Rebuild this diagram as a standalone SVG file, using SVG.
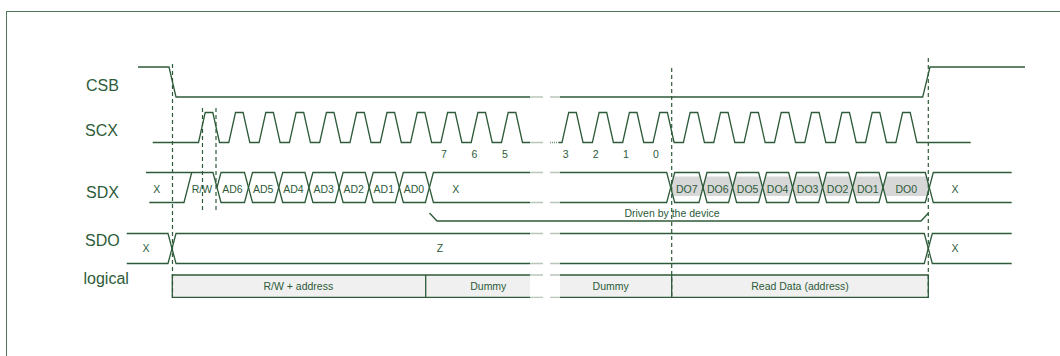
<svg xmlns="http://www.w3.org/2000/svg" width="1060" height="356" viewBox="0 0 1060 356">
<style>
.w{fill:none;stroke:#2d5b39;stroke-width:1.3;stroke-linejoin:miter}
.dot{fill:none;stroke:#6f8f76;stroke-width:1.3;stroke-dasharray:1 1}
.dash{fill:none;stroke:#2d5b39;stroke-width:1.2;stroke-dasharray:4 3}
.hx{fill:none;stroke:#2d5b39;stroke-width:1.3}
.dx{fill:#d7d7d7;stroke:none}
.lg{fill:#f0f0f0;stroke:none}
.big{font-family:"Liberation Sans",Arial,sans-serif;font-size:16px;fill:#2d5b39}
.sm{font-family:"Liberation Sans",Arial,sans-serif;font-size:10.5px;fill:#2d5b39;text-anchor:middle}
</style>
<rect x="6.5" y="11.5" width="1100" height="400" fill="none" stroke="#4f7359" stroke-width="1"/>

<g id="signal-labels">
<text class="big" x="86" y="91">CSB</text>
<text class="big" x="85" y="136">SCX</text>
<text class="big" x="86" y="197.5">SDX</text>
<text class="big" x="85" y="246">SDO</text>
<text class="big" x="83.5" y="284">logical</text>
</g>

<g id="csb">
<path class="w" d="M138,67 H169 L176,97 H530"/>
<path class="dot" d="M530.5,97 H543 M550.5,97 H560"/>
<path class="w" d="M560,97 H922.7 L930,67 H1025"/>
</g>

<g id="scx">
<path class="w" d="M152.7,142.5 L198.5,142.5 L205.2,112.5 L212.8,112.5 L219.5,142.5 L228.8,142.5 L235.5,112.5 L243.1,112.5 L249.8,142.5 L259.1,142.5 L265.8,112.5 L273.4,112.5 L280.1,142.5 L289.4,142.5 L296.1,112.5 L303.7,112.5 L310.4,142.5 L319.7,142.5 L326.4,112.5 L334,112.5 L340.7,142.5 L350,142.5 L356.7,112.5 L364.3,112.5 L371,142.5 L380.3,142.5 L387,112.5 L394.6,112.5 L401.3,142.5 L410.6,142.5 L417.3,112.5 L424.9,112.5 L431.6,142.5 L440.9,142.5 L447.6,112.5 L455.2,112.5 L461.9,142.5 L471.2,142.5 L477.9,112.5 L485.5,112.5 L492.2,142.5 L501.5,142.5 L508.2,112.5 L515.8,112.5 L522.5,142.5 L530,142.5"/>
<path class="dot" d="M530.5,142.5 H543 M550,142.5 H559"/>
<path class="w" d="M559,142.5 L562,142.5 L568.7,112.5 L576.3,112.5 L583,142.5 L592.4,142.5 L599.1,112.5 L606.7,112.5 L613.4,142.5 L622.7,142.5 L629.4,112.5 L637,112.5 L643.7,142.5 L653.1,142.5 L659.8,112.5 L667.4,112.5 L674.1,142.5 L683.4,142.5 L690.1,112.5 L697.7,112.5 L704.4,142.5 L713.8,142.5 L720.5,112.5 L728.1,112.5 L734.8,142.5 L744.1,142.5 L750.8,112.5 L758.4,112.5 L765.1,142.5 L774.5,142.5 L781.2,112.5 L788.8,112.5 L795.5,142.5 L804.8,142.5 L811.5,112.5 L819.1,112.5 L825.8,142.5 L835.2,142.5 L841.9,112.5 L849.5,112.5 L856.2,142.5 L865.5,142.5 L872.2,112.5 L879.8,112.5 L886.5,142.5 L895.9,142.5 L902.6,112.5 L910.2,112.5 L916.9,142.5 L970.7,142.5"/>
<text class="sm" x="444" y="157.5">7</text>
<text class="sm" x="474.3" y="157.5">6</text>
<text class="sm" x="505" y="157.5">5</text>
<text class="sm" x="565.7" y="157.5">3</text>
<text class="sm" x="595.7" y="157.5">2</text>
<text class="sm" x="626" y="157.5">1</text>
<text class="sm" x="656" y="157.5">0</text>
</g>

<g id="sdx">
<path class="w" d="M146,172.5 H213 L217,187.5"/>
<path class="w" d="M149.3,202.5 H184 L191.7,172.5"/>
<polygon class="hx" points="217,187.5 221,172.5 244.5,172.5 248.5,187.5 244.5,202.5 221,202.5"/>
<polygon class="hx" points="248.5,187.5 252.5,172.5 274.7,172.5 278.7,187.5 274.7,202.5 252.5,202.5"/>
<polygon class="hx" points="278.7,187.5 282.7,172.5 304.9,172.5 308.9,187.5 304.9,202.5 282.7,202.5"/>
<polygon class="hx" points="308.9,187.5 312.9,172.5 335.1,172.5 339.1,187.5 335.1,202.5 312.9,202.5"/>
<polygon class="hx" points="339.1,187.5 343.1,172.5 365.2,172.5 369.2,187.5 365.2,202.5 343.1,202.5"/>
<polygon class="hx" points="369.2,187.5 373.2,172.5 395.3,172.5 399.3,187.5 395.3,202.5 373.2,202.5"/>
<polygon class="hx" points="399.3,187.5 403.3,172.5 425.4,172.5 429.4,187.5 425.4,202.5 403.3,202.5"/>
<path class="w" d="M530,172.5 H433.4 L429.4,187.5 L433.4,202.5 H530"/>
<path class="dot" d="M530.5,172.5 H543 M550.5,172.5 H560 M530.5,202.5 H543 M550.5,202.5 H560"/>
<path class="w" d="M560,172.5 H666.7 L670.7,187.5 L666.7,202.5 H560"/>
<g id="sdx-read">
<polygon class="dx" points="673.6,176.5 700.1,176.5 703,187.5 700.7,196 673,196 670.7,187.5"/>
<polygon class="dx" points="705.9,176.5 729.7,176.5 732.6,187.5 730.3,196 705.3,196 703,187.5"/>
<polygon class="dx" points="735.5,176.5 759.7,176.5 762.6,187.5 760.3,196 734.9,196 732.6,187.5"/>
<polygon class="dx" points="765.5,176.5 789.7,176.5 792.6,187.5 790.3,196 764.9,196 762.6,187.5"/>
<polygon class="dx" points="795.5,176.5 819.7,176.5 822.6,187.5 820.3,196 794.9,196 792.6,187.5"/>
<polygon class="dx" points="825.5,176.5 849.7,176.5 852.6,187.5 850.3,196 824.9,196 822.6,187.5"/>
<polygon class="dx" points="855.5,176.5 880.1,176.5 883,187.5 880.7,196 854.9,196 852.6,187.5"/>
<polygon class="dx" points="885.9,176.5 926.4,176.5 929.3,187.5 927,196 885.3,196 883,187.5"/>
<polygon class="hx" points="670.7,187.5 674.7,172.5 699,172.5 703,187.5 699,202.5 674.7,202.5"/>
<polygon class="hx" points="703,187.5 707,172.5 728.6,172.5 732.6,187.5 728.6,202.5 707,202.5"/>
<polygon class="hx" points="732.6,187.5 736.6,172.5 758.6,172.5 762.6,187.5 758.6,202.5 736.6,202.5"/>
<polygon class="hx" points="762.6,187.5 766.6,172.5 788.6,172.5 792.6,187.5 788.6,202.5 766.6,202.5"/>
<polygon class="hx" points="792.6,187.5 796.6,172.5 818.6,172.5 822.6,187.5 818.6,202.5 796.6,202.5"/>
<polygon class="hx" points="822.6,187.5 826.6,172.5 848.6,172.5 852.6,187.5 848.6,202.5 826.6,202.5"/>
<polygon class="hx" points="852.6,187.5 856.6,172.5 879,172.5 883,187.5 879,202.5 856.6,202.5"/>
<polygon class="hx" points="883,187.5 887,172.5 925.3,172.5 929.3,187.5 925.3,202.5 887,202.5"/>
</g>
<path class="w" d="M1011.7,172.5 H933.3 L929.3,187.5 L933.3,202.5 H1011.7"/>
<text class="sm" x="156.7" y="192.5">X</text>
<text class="sm" x="202" y="192.5">R/W</text>
<text class="sm" x="232.5" y="192.5">AD6</text>
<text class="sm" x="263.2" y="192.5">AD5</text>
<text class="sm" x="293.4" y="192.5">AD4</text>
<text class="sm" x="323.6" y="192.5">AD3</text>
<text class="sm" x="353.7" y="192.5">AD2</text>
<text class="sm" x="383.8" y="192.5">AD1</text>
<text class="sm" x="413.9" y="192.5">AD0</text>
<text class="sm" x="455.7" y="192.5">X</text>
<text class="sm" x="686.8" y="192.5">DO7</text>
<text class="sm" x="717.8" y="192.5">DO6</text>
<text class="sm" x="747.6" y="192.5">DO5</text>
<text class="sm" x="777.6" y="192.5">DO4</text>
<text class="sm" x="807.6" y="192.5">DO3</text>
<text class="sm" x="837.6" y="192.5">DO2</text>
<text class="sm" x="867.8" y="192.5">DO1</text>
<text class="sm" x="906.2" y="192.5">DO0</text>
<text class="sm" x="955" y="192.5">X</text>
</g>

<g id="sdo">
<path class="w" d="M126.7,233.5 H168 L172,248.5 L168,263.5 H126.7"/>
<path class="w" d="M530,233.5 H176 L172,248.5 L176,263.5 H530"/>
<path class="dot" d="M530.5,233.5 H543 M550.5,233.5 H560 M530.5,263.5 H543 M550.5,263.5 H560"/>
<path class="w" d="M560,233.5 H924.3 L928.3,248.5 L924.3,263.5 H560"/>
<path class="w" d="M1011.7,233.5 H932.3 L928.3,248.5 L932.3,263.5 H1011.7"/>
<text class="sm" x="146" y="252">X</text>
<text class="sm" x="440" y="252">Z</text>
<text class="sm" x="955" y="252">X</text>
</g>

<g id="logical">
<rect class="lg" x="172.3" y="275" width="357.7" height="22.3"/>
<rect class="lg" x="560" y="275" width="368.3" height="22.3"/>
<path class="w" d="M530,275 H172.3 V297.3 H530 M425.7,275 V297.3"/>
<path class="dot" d="M530.5,275 H543 M550.5,275 H560 M530.5,297.3 H543 M550.5,297.3 H560"/>
<path class="w" d="M560,275 H928.3 V297.3 H560 M671.7,275 V297.3"/>
<text class="sm" x="298.3" y="290">R/W + address</text>
<text class="sm" x="488.3" y="290">Dummy</text>
<text class="sm" x="610.7" y="290">Dummy</text>
<text class="sm" x="800" y="290">Read Data (address)</text>
</g>

<g id="connectors">
<path class="dash" d="M172.5,64 V297"/>
<path class="dash" d="M202.5,108 V213"/>
<path class="dash" d="M216,108 V213"/>
<path class="dash" d="M671.7,68 V297"/>
<path class="dash" d="M928.3,58 V297"/>
<path class="w" d="M429.5,213 L437,221 H921 L928.5,213"/>
<text class="sm" x="672" y="216.5">Driven by the device</text>
</g>
</svg>
